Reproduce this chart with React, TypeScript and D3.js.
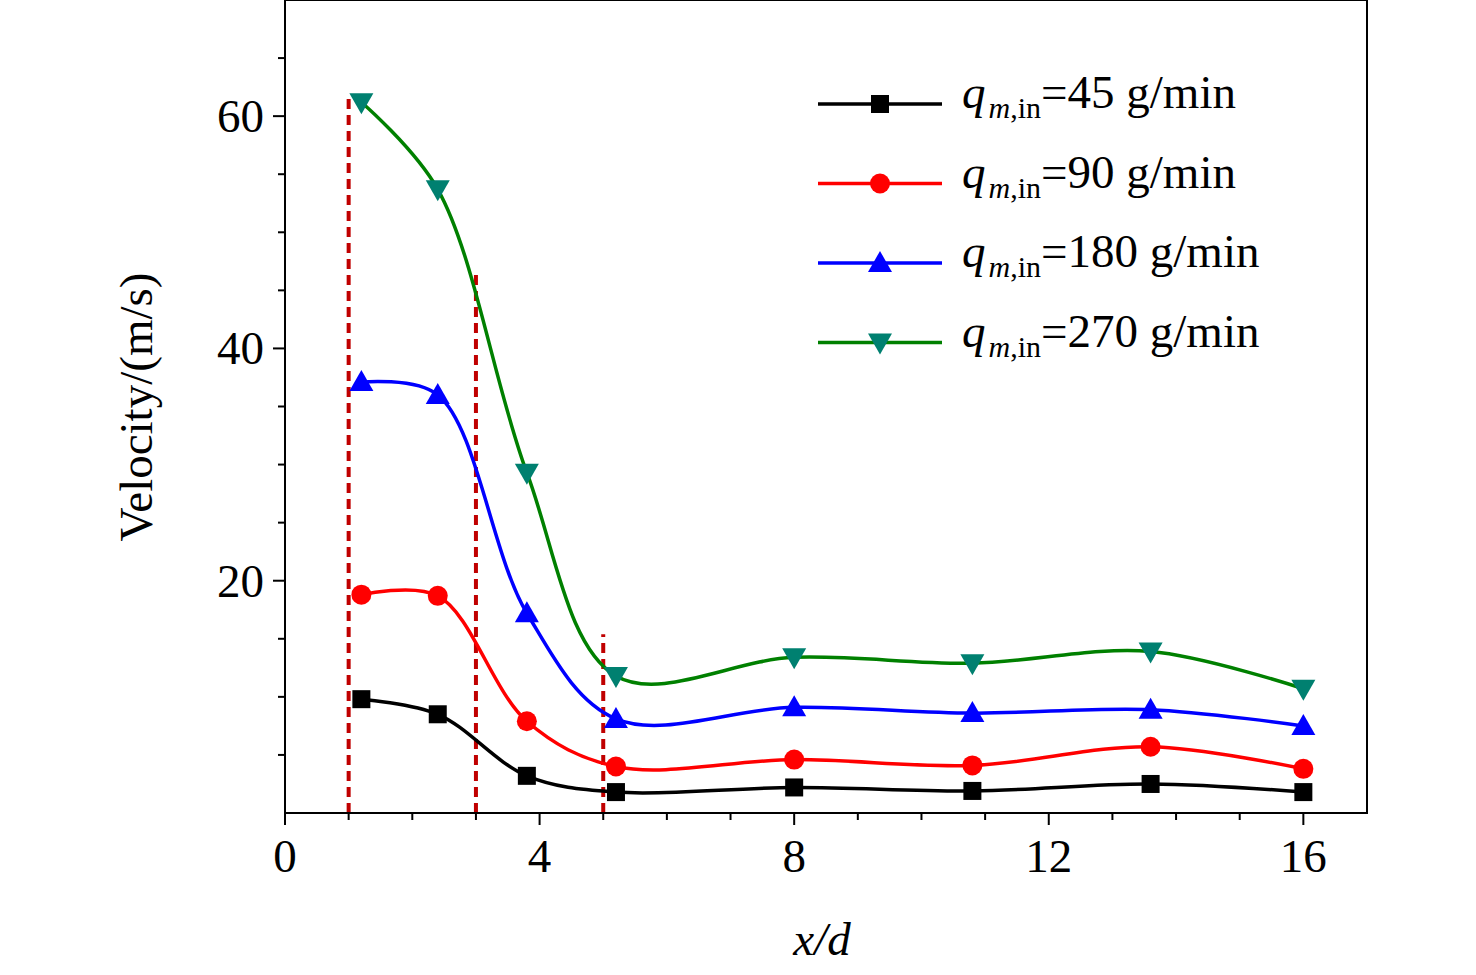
import React from "react";
import * as d3 from "d3";

const xs = [1.2, 2.4, 3.8, 5.2, 8, 10.8, 13.6, 16];
const s45 = [9.8, 8.5, 3.2, 1.8, 2.2, 1.9, 2.5, 1.8];
const s90 = [18.8, 18.7, 7.9, 4.0, 4.6, 4.1, 5.7, 3.8];
const s180 = [37.1, 36.0, 17.2, 8.1, 9.1, 8.6, 8.9, 7.5];
const s270 = [61.2, 53.7, 29.3, 11.8, 13.4, 12.9, 13.9, 10.7];
const dashX = [1, 3, 5];
const dashTop = [62, 46.8, 15.4];
const xTicks = [0, 4, 8, 12, 16];
const yTicks = [20, 40, 60];
const labels = ["45", "90", "180", "270"];
const colors = ["#000000", "#ff0000", "#0000ff", "#008000"];
const markerColors = ["#000000", "#ff0000", "#0000ff", "#008070"];
const shapes = ["square", "circle", "up", "down"];

const L = 285, R = 1367, T = 0, B = 813;
const x = d3.scaleLinear().domain([0, 17]).range([L, R]);
const y = d3.scaleLinear().domain([0, 70]).range([B, T]);

function Marker({ shape, cx, cy, color }: any) {
  if (shape === "square") return <rect x={cx - 9} y={cy - 9} width={18} height={18} fill={color} />;
  if (shape === "circle") return <circle cx={cx} cy={cy} r={10} fill={color} />;
  if (shape === "up") return <path d={`M${cx},${cy - 12}L${cx + 12},${cy + 9}L${cx - 12},${cy + 9}Z`} fill={color} />;
  return <path d={`M${cx},${cy + 12}L${cx + 12},${cy - 9}L${cx - 12},${cy - 9}Z`} fill={color} />;
}

export default function App() {
  const series = [s45, s90, s180, s270];
  const line = d3.line<number>().x((_, i) => x(xs[i])).y((d) => y(d)).curve(d3.curveCatmullRom.alpha(0.5));
  const font = "Liberation Serif, serif";
  return (
    <svg width={1476} height={975} style={{ position: "absolute", left: 0, top: 0 }} fontFamily={font}>
      {dashX.map((d, i) => (
        <line key={i} x1={x(d)} x2={x(d)} y1={B} y2={y(dashTop[i])} stroke="#c00000" strokeWidth={4} strokeDasharray="10,6" />
      ))}
      {series.map((s, k) => (
        <g key={k}>
          <path d={line(s) || ""} fill="none" stroke={colors[k]} strokeWidth={3.5} />
          {s.map((v, i) => <Marker key={i} shape={shapes[k]} cx={x(xs[i])} cy={y(v)} color={markerColors[k]} />)}
        </g>
      ))}
      <rect x={L} y={T} width={R - L} height={B - T} fill="none" stroke="#000" strokeWidth={2} />
      {d3.range(0, 17).map((t) => (
        <line key={t} x1={x(t)} x2={x(t)} y1={B} y2={B + (t % 4 === 0 ? 12 : 7)} stroke="#000" strokeWidth={2} />
      ))}
      {d3.range(5, 70, 5).map((t) => (
        <line key={t} x1={L} x2={L - (t % 20 === 0 ? 12 : 7)} y1={y(t)} y2={y(t)} stroke="#000" strokeWidth={2} />
      ))}
      {xTicks.map((t) => (
        <text key={t} x={x(t)} y={872} fontSize={47} textAnchor="middle">{t}</text>
      ))}
      {yTicks.map((t) => (
        <text key={t} x={264} y={y(t) + 16} fontSize={47} textAnchor="end">{t}</text>
      ))}
      <text transform="translate(152,407) rotate(-90)" fontSize={47} textAnchor="middle">Velocity/(m/s)</text>
      <text x={822} y={955} fontSize={47} textAnchor="middle" fontStyle="italic">x/d</text>
      {labels.map((lb, k) => {
        const ly = 104 + k * 79.5;
        return (
          <g key={k}>
            <line x1={818} x2={942} y1={ly} y2={ly} stroke={colors[k]} strokeWidth={3.5} />
            <Marker shape={shapes[k]} cx={880} cy={ly} color={markerColors[k]} />
            <text x={962} y={ly + 4} fontSize={47}>
              <tspan fontStyle="italic">q</tspan>
              <tspan fontSize={30} dy={10} dx={3} fontStyle="italic">m</tspan>
              <tspan fontSize={30}>,in</tspan>
              <tspan dy={-10}>={lb} g/min</tspan>
            </text>
          </g>
        );
      })}
    </svg>
  );
}
